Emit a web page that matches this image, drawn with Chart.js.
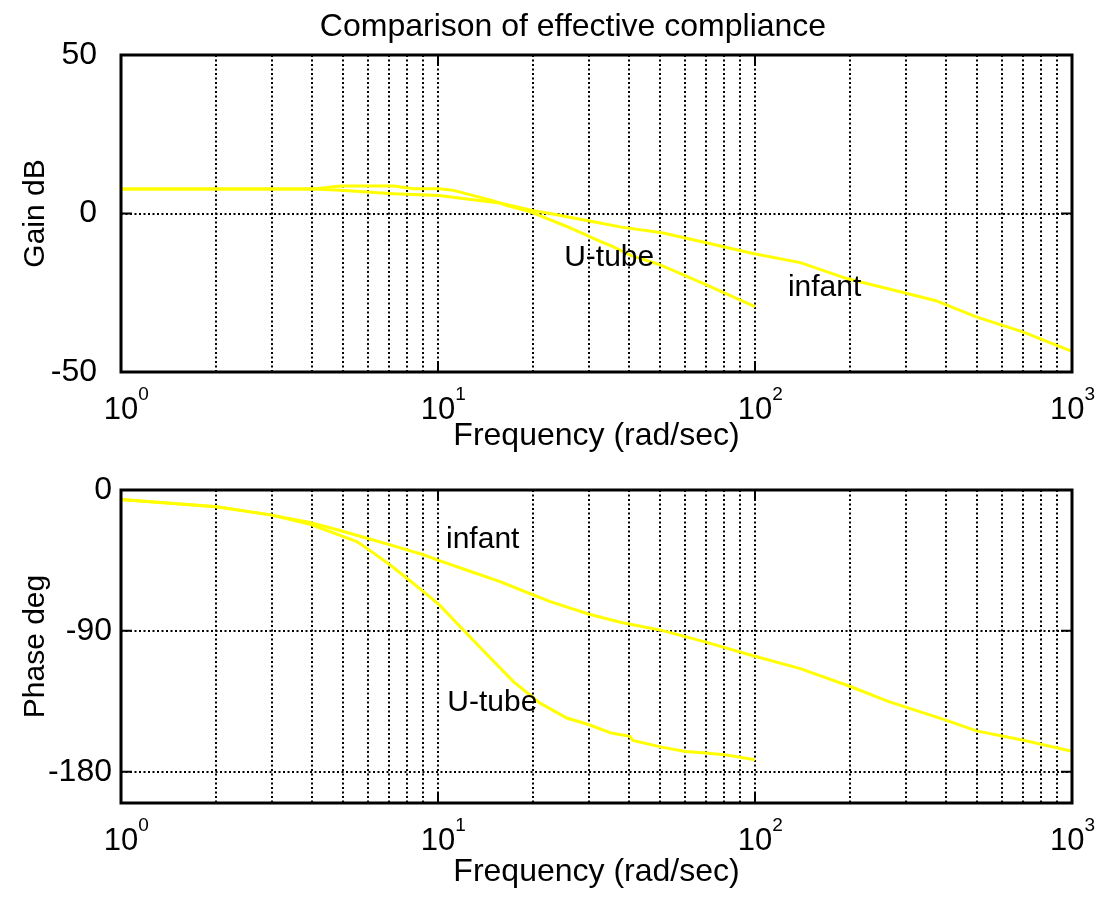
<!DOCTYPE html>
<html>
<head>
<meta charset="utf-8">
<title>Comparison of effective compliance</title>
<script src="https://cdn.jsdelivr.net/npm/chart.js@4"></script>
<style>
  html, body { margin: 0; padding: 0; background: #fff; }
  #wrap { position: relative; width: 1096px; height: 898px; }
  #gainCanvas { position: absolute; left: 0; top: 0; }
  #phaseCanvas { position: absolute; left: 0; top: 462px; }
</style>
</head>
<body>
<div id="wrap">
  <canvas id="gainCanvas" width="1096" height="462"></canvas>
  <canvas id="phaseCanvas" width="1096" height="436"></canvas>
</div>
<script>
// ---- data ----
const uGainFreq = [1, 2, 3, 4.05, 4.92, 7.25, 8.38, 10.1, 11.2, 15, 16.5, 19.5, 25.5, 32.5, 35.2, 40.8, 49.6, 70, 100];
const uGainDb = [7.7, 7.7, 7.7, 7.7, 8.7, 8.7, 7.8, 7.8, 7.3, 4.0, 2.5, 0.6, -4.1, -8.8, -10.2, -13.3, -16, -22.4, -29.4];

const infGainFreq = [1, 2, 4.05, 4.92, 7.25, 10.1, 12.3, 15.7, 20, 22.6, 25.5, 32.5, 37.9, 50.9, 68, 98.6, 139, 196, 298, 372, 499, 703, 1000];
const infGainDb = [7.7, 7.7, 7.7, 7.3, 6.2, 5.7, 4.6, 3.3, 0.9, 0, -1.0, -3.0, -4.3, -6.1, -8.9, -12.6, -15.5, -20.6, -25.1, -27.5, -32.6, -37.4, -43.5];

const uPhaseFreq = [1, 2, 2.96, 3.95, 5.04, 5.55, 5.97, 7.07, 7.98, 9.0, 10.1, 12.3, 14.3, 17.3, 21, 25.5, 30, 35.2, 40.3, 41.2, 50.8, 60.3, 69.8, 80, 100];
const uPhaseDeg = [-6.0, -10.7, -15.9, -21.9, -29.8, -33.0, -37.3, -47.9, -56.4, -64.9, -73.4, -91.5, -105.3, -122.4, -136.2, -145.7, -150.0, -155.3, -157.4, -160.0, -164.3, -167.1, -168.1, -169.1, -172.3];

const infPhaseFreq = [1, 2, 2.96, 3.95, 5.04, 5.97, 7.07, 9.0, 10.1, 12.3, 15.7, 20, 22.6, 30, 37.9, 50.8, 60.3, 70, 98.6, 139, 199, 263, 400, 499, 703, 1000];
const infPhaseDeg = [-6.0, -10.7, -15.9, -20.7, -26.5, -30.8, -35.1, -41.4, -45.1, -51.1, -58.5, -67.1, -71.3, -79.4, -84.7, -89.7, -93.7, -97.2, -105.9, -114.1, -125.4, -135.1, -147.0, -153.9, -159.9, -167.0];

// axis ticks
const freqGridTicks = [1, 2, 3, 4, 5, 6, 7, 8, 9, 10, 20, 30, 40, 50, 60, 70, 80, 90, 100, 200, 300, 400, 500, 600, 700, 800, 900, 1000];
const freqDecades = [1, 10, 100, 1000];
const decadeExponents = ['0', '1', '2', '3'];
const gainTicks = [-50, 0, 50];
const phaseTicks = [-180, -90, 0];

// text labels placed in data coordinates
const gainNotes = [{ text: 'U-tube', x: 25, y: -14 }, { text: 'infant', x: 127, y: -23.5 }];
const phaseNotes = [{ text: 'infant', x: 10.6, y: -32 }, { text: 'U-tube', x: 10.7, y: -136 }];

const FONT = '"Liberation Sans", Arial, Helvetica, sans-serif';
const LINE_YELLOW = '#ffff00';

function toPoints(xs, ys) {
    return xs.map((x, i) => ({ x: x, y: ys[i] }));
}

// frame, inward ticks, 10^n labels, heading and text notes, MATLAB style
const matlabAxes = {
    id: 'matlabAxes',
    afterDatasetsDraw(chart, args, opts) {
        const ctx = chart.ctx;
        const a = chart.chartArea;
        const xs = chart.scales.x;
        const ys = chart.scales.y;
        ctx.save();

        ctx.fillStyle = '#000';
        if (opts.heading) {
            ctx.font = '32px ' + FONT;
            ctx.textAlign = 'center';
            ctx.textBaseline = 'middle';
            ctx.fillText(opts.heading, 573, 27);
        }

        // notes
        ctx.font = '30px ' + FONT;
        ctx.textAlign = 'left';
        ctx.textBaseline = 'middle';
        opts.notes.forEach(n => {
            ctx.fillText(n.text, xs.getPixelForValue(n.x), ys.getPixelForValue(n.y));
        });

        // inward tick marks
        ctx.strokeStyle = '#000';
        ctx.lineWidth = 2;
        ctx.beginPath();
        ys.ticks.forEach(t => {
            const py = ys.getPixelForValue(t.value);
            ctx.moveTo(a.left, py); ctx.lineTo(a.left + 11, py);
            ctx.moveTo(a.right, py); ctx.lineTo(a.right - 11, py);
        });
        freqDecades.forEach(v => {
            const px = xs.getPixelForValue(v);
            ctx.moveTo(px, a.bottom); ctx.lineTo(px, a.bottom - 11);
            ctx.moveTo(px, a.top); ctx.lineTo(px, a.top + 11);
        });
        ctx.stroke();

        // frame
        ctx.lineWidth = 3;
        ctx.strokeRect(a.left, a.top, a.right - a.left, a.bottom - a.top);

        // 10^n tick labels
        freqDecades.forEach((v, i) => {
            let px = xs.getPixelForValue(v);
            ctx.font = '31px ' + FONT;
            const w = ctx.measureText('10').width;
            ctx.font = '19px ' + FONT;
            const ew = ctx.measureText(decadeExponents[i]).width;
            const over = px + w / 2 + ew - (chart.width - 1);
            if (over > 0) px -= over;
            ctx.font = '31px ' + FONT;
            ctx.textAlign = 'center';
            ctx.textBaseline = 'alphabetic';
            ctx.fillText('10', px, a.bottom + 47);
            ctx.font = '19px ' + FONT;
            ctx.textAlign = 'left';
            ctx.fillText(decadeExponents[i], px + w / 2, a.bottom + 28);
        });
        ctx.restore();
    }
};

function lineSet(label, xs, ys) {
    return {
        label: label,
        data: toPoints(xs, ys),
        borderColor: LINE_YELLOW,
        borderWidth: 3,
        pointRadius: 0,
        tension: 0,
        fill: false
    };
}

function makeOptions(cfg) {
    return {
        responsive: false,
        animation: false,
        layout: { padding: { left: 0, right: 24, top: cfg.padTop, bottom: 0 } },
        plugins: {
            legend: { display: false },
            tooltip: { enabled: false },
            title: { display: false },
            matlabAxes: { notes: cfg.notes, heading: cfg.heading }
        },
        scales: {
            x: {
                type: 'logarithmic',
                min: 1,
                max: 1000,
                afterBuildTicks: s => { s.ticks = freqGridTicks.map(v => ({ value: v })); },
                afterFit: s => { s.height = cfg.xHeight; s.paddingLeft = 0; s.paddingRight = 0; },
                ticks: { display: false },
                grid: { color: '#000', lineWidth: 2, drawTicks: false },
                border: { display: false, dash: [2, 2.5] },
                title: {
                    display: true,
                    text: 'Frequency (rad/sec)',
                    color: '#000',
                    font: { family: FONT, size: 32, lineHeight: 1 },
                    padding: { top: 0, bottom: 10 }
                }
            },
            y: {
                type: 'linear',
                min: cfg.yMin,
                max: cfg.yMax,
                afterBuildTicks: s => { s.ticks = cfg.yTicks.map(v => ({ value: v })); },
                afterFit: s => { s.width = 121; s.paddingTop = 0; s.paddingBottom = 0; },
                ticks: {
                    color: '#000',
                    padding: cfg.yTickPad,
                    font: { family: FONT, size: 32 },
                    callback: v => String(v)
                },
                grid: { color: '#000', lineWidth: 2, drawTicks: false },
                border: { display: false, dash: [2, 2.5] },
                title: {
                    display: true,
                    text: cfg.yTitle,
                    color: '#000',
                    font: { family: FONT, size: 30, lineHeight: 1 },
                    padding: { top: 21, bottom: 0 }
                }
            }
        }
    };
}

new Chart(document.getElementById('gainCanvas').getContext('2d'), {
    type: 'line',
    data: {
        datasets: [
            lineSet('U-tube', uGainFreq, uGainDb),
            lineSet('infant', infGainFreq, infGainDb)
        ]
    },
    options: makeOptions({
        heading: 'Comparison of effective compliance',
        padTop: 55,
        xHeight: 90,
        yTickPad: 24,
        yMin: -50, yMax: 50,
        yTicks: gainTicks,
        yTitle: 'Gain dB',
        notes: gainNotes
    }),
    plugins: [matlabAxes]
});

new Chart(document.getElementById('phaseCanvas').getContext('2d'), {
    type: 'line',
    data: {
        datasets: [
            lineSet('U-tube', uPhaseFreq, uPhaseDeg),
            lineSet('infant', infPhaseFreq, infPhaseDeg)
        ]
    },
    options: makeOptions({
        heading: null,
        padTop: 28,
        xHeight: 95,
        yTickPad: 9,
        yMin: -200, yMax: 0,
        yTicks: phaseTicks,
        yTitle: 'Phase deg',
        notes: phaseNotes
    }),
    plugins: [matlabAxes]
});
</script>
</body>
</html>
